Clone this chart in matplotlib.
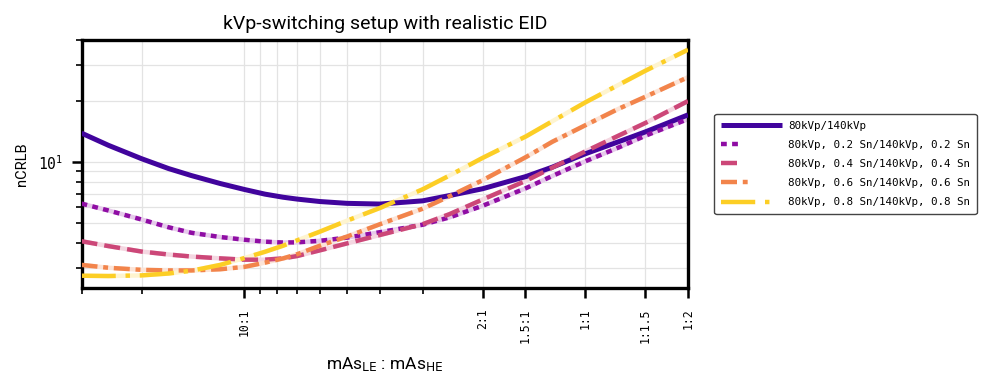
import numpy as np
import matplotlib
matplotlib.use("Agg")
import matplotlib.pyplot as plt
from matplotlib.ticker import FixedLocator, NullFormatter, LogLocator
from matplotlib.colors import to_rgb
from matplotlib.legend_handler import HandlerLine2D

plt.rcParams["mathtext.default"] = "regular"

# mAs ratio HE/LE (log axis): 1/30 ... 2
ratio = [1/30, 0.04, 0.05, 0.06, 0.07, 0.085, 0.10, 0.115, 0.13, 1/7, 1/6, 0.20,
         0.25, 1/3, 0.40, 0.50, 0.67, 0.80, 1.00, 1.25, 1.50, 2.00]

ncrlb_none = [13.9, 12.1, 10.4, 9.3, 8.59, 7.85, 7.34, 6.96, 6.72, 6.58, 6.40, 6.27,
              6.22, 6.45, 6.85, 7.4, 8.5, 9.45, 11.0, 12.6, 14.1, 17.1]
ncrlb_sn02 = [6.25, 5.78, 5.22, 4.78, 4.49, 4.28, 4.15, 4.06, 4.02, 4.03, 4.10, 4.25,
              4.52, 4.92, 5.35, 6.1, 7.45, 8.55, 10.1, 11.8, 13.5, 16.3]
ncrlb_sn04 = [4.08, 3.86, 3.63, 3.51, 3.43, 3.36, 3.31, 3.31, 3.36, 3.45, 3.68, 3.98,
              4.38, 4.95, 5.55, 6.55, 8.1, 9.4, 11.3, 13.5, 15.6, 20.0]
ncrlb_sn06 = [3.12, 3.02, 2.95, 2.93, 2.93, 2.97, 3.05, 3.20, 3.36, 3.52, 3.88, 4.30,
              4.95, 5.9, 6.8, 8.15, 10.6, 12.6, 15.2, 18.3, 21.0, 26.2]
ncrlb_sn08 = [2.76, 2.75, 2.77, 2.83, 2.92, 3.12, 3.37, 3.62, 3.88, 4.12, 4.55, 5.15,
              5.95, 7.35, 8.6, 10.5, 13.4, 15.9, 19.7, 24.0, 28.2, 35.8]

series_labels = [
    "80kVp/140kVp",
    "80kVp, 0.2 Sn/140kVp, 0.2 Sn",
    "80kVp, 0.4 Sn/140kVp, 0.4 Sn",
    "80kVp, 0.6 Sn/140kVp, 0.6 Sn",
    "80kVp, 0.8 Sn/140kVp, 0.8 Sn",
]

tick_ratios = [0.1, 0.5, 1/1.5, 1.0, 1.5, 2.0]
tick_labels = ["10:1", "2:1", "1.5:1", "1:1", "1:1.5", "1:2"]
minor_ratios = [1/30, 0.05, 1/9, 1/8, 1/7, 1/6, 1/5, 1/4, 1/3]

mono = "DejaVu Sans Mono"
sans = "Roboto"


class ShortHandle(HandlerLine2D):
    """Legend line handle drawn over only a fraction of the handle box."""

    def __init__(self, frac, **kw):
        super().__init__(**kw)
        self.frac = frac

    def get_xdata(self, legend, xdescent, ydescent, width, height, fontsize):
        xd, xm = super().get_xdata(legend, xdescent, ydescent, width, height, fontsize)
        xd = np.asarray(xd, float)
        xd = xd[0] + (xd - xd[0]) * self.frac
        return xd, xm


fig = plt.figure(figsize=(9.87, 3.80), dpi=100)
ax = fig.add_axes([0.0826, 0.242, 0.6145, 0.653])

colors = [plt.cm.plasma(v) for v in (0.1, 0.3, 0.5, 0.7, 0.9)]
dashes = [None, (1.3, 1.2), (3.6, 1.6), (3.6, 1.3, 1.1, 1.3), (7.7, 2.2, 1.0, 2.2)]
widths = [3.6, 3.2, 3.2, 3.2, 3.2]
handle_frac = [1.0, 0.33, 0.33, 0.5, 0.86]

all_series = [ncrlb_none, ncrlb_sn02, ncrlb_sn04, ncrlb_sn06, ncrlb_sn08]
handles = []
hmap = {}
for vals, lab, col, dsh, lw, fr in zip(all_series, series_labels, colors, dashes, widths, handle_frac):
    if dsh is None:
        (ln,) = ax.plot(ratio, vals, color=col, lw=lw, label=lab, solid_capstyle="butt", zorder=3)
    else:
        r, g, b = to_rgb(col)
        pale = (1 - 0.22 * (1 - r), 1 - 0.22 * (1 - g), 1 - 0.22 * (1 - b))
        ax.plot(ratio, vals, color=pale, lw=lw, zorder=2, solid_capstyle="butt")
        (ln,) = ax.plot(ratio, vals, color=col, lw=lw, dashes=dsh, label=lab,
                        dash_capstyle="butt", zorder=3)
    handles.append(ln)
    hmap[ln] = ShortHandle(fr)

ax.set_xscale("log")
ax.set_yscale("log")
ax.set_xlim(1/30, 2.0)
ax.set_ylim(2.4, 40)

ax.xaxis.set_major_locator(FixedLocator(tick_ratios))
ax.set_xticklabels(tick_labels, rotation=90, fontfamily=mono, fontsize=8.3)
ax.xaxis.set_minor_locator(FixedLocator(minor_ratios))
ax.xaxis.set_minor_formatter(NullFormatter())

ax.yaxis.set_major_locator(LogLocator(base=10))
ax.yaxis.set_minor_locator(LogLocator(base=10, subs=np.arange(2, 10)))
ax.yaxis.set_minor_formatter(NullFormatter())
for t in ax.get_yticklabels():
    t.set_fontfamily(mono)
    t.set_fontsize(10.5)

ax.grid(True, which="both", color="#e3e3e3", lw=0.9, zorder=0)
ax.set_axisbelow(True)

for sp in ax.spines.values():
    sp.set_linewidth(2.4)
ax.tick_params(which="major", length=7, width=1.8, direction="out")
ax.tick_params(which="minor", length=4, width=1.2, direction="out")
ax.tick_params(axis="x", which="major", pad=8)
ax.tick_params(axis="y", which="major", pad=6)

ax.set_ylabel("nCRLB", fontfamily=sans, fontsize=10.5, labelpad=7)
ax.set_xlabel(r"mAs$_{\mathrm{LE}}$ : mAs$_{\mathrm{HE}}$", fontfamily=sans, fontsize=12.5, labelpad=9)
ax.set_title("kVp-switching setup with realistic EID", fontfamily=sans, fontsize=14, pad=8)

leg = ax.legend(handles=handles, handler_map=hmap, loc="center left", bbox_to_anchor=(1.04, 0.5),
                prop={"family": mono, "size": 7.8},
                frameon=True, fancybox=True, edgecolor="#444444", framealpha=1,
                handlelength=5.6, handletextpad=0.6, borderpad=0.6, labelspacing=0.85,
                borderaxespad=0.2)
leg.get_frame().set_linewidth(1.0)

fig.savefig("out.png", dpi=100)
